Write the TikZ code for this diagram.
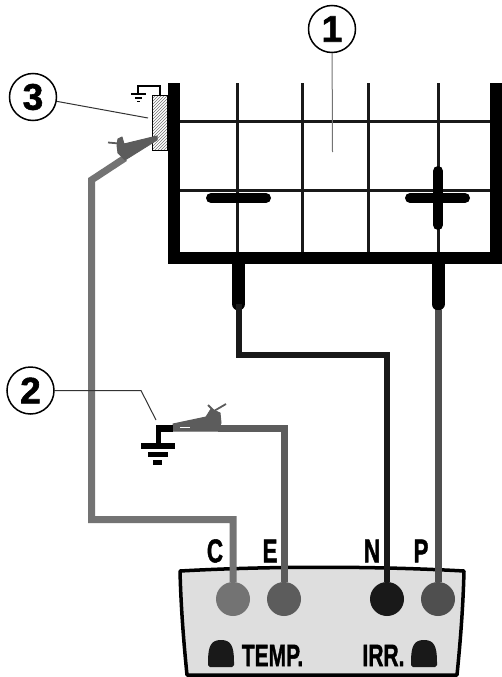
\documentclass[tikz,border=0pt]{standalone}
\usepackage{fontspec}
\setmainfont[BoldFeatures={FakeBold=1.6}]{Liberation Sans}
\usetikzlibrary{patterns}

\definecolor{wire_c}{gray}{0.45}
\definecolor{wire_e}{gray}{0.36}
\definecolor{wire_p}{gray}{0.31}

\begin{document}
\begin{tikzpicture}[
        x=1pt,y=-1pt,
        tank_wall/.style={line width=12pt, black, line join=miter},
        grid_line/.style={line width=3pt, black!90},
        pole_bar/.style={line width=10pt, black, line cap=round},
        ref_circle/.style={
            circle,
            draw=black,
            fill=white,
            line width=1.5pt,
            minimum size=47pt,
            inner sep=0pt,
            font=\bfseries\fontsize{37}{37}\selectfont
        },
        leader_line/.style={line width=1pt, black!80},
        jack_node/.style={circle, minimum size=34pt, inner sep=0pt},
        wire_line/.style={line width=7pt, line join=miter},
        probe_sleeve/.style={line width=13pt, black, line cap=round},
        clamp_body/.style={fill=wire_e, draw=wire_e, line width=1pt, line join=round},
        clamp_lever/.style={line width=1.8pt, wire_e},
        ground_bar/.style={line width=5.5pt, black},
        terminal_text/.style={inner sep=0pt, font=\bfseries\fontsize{33}{33}\selectfont},
        panel_text/.style={inner sep=0pt, font=\bfseries\fontsize{30}{30}\selectfont},
        port_blob/.style={fill=black!90, draw=none}
    ]
    \useasboundingbox (0,0) rectangle (502,677);

    % Tank grid
    \foreach \gx in {237,302,368,438} {
        \draw[grid_line] (\gx,83) -- (\gx,252);
    }
    \foreach \gy in {121,190} {
        \draw[grid_line] (180,\gy) -- (492,\gy);
    }

    % Battery leads
    \coordinate (Stub_N) at (238.5,262);
    \coordinate (Stub_P) at (438,262);
    \draw[probe_sleeve] (Stub_N) -- (238.5,304);
    \draw[probe_sleeve] (Stub_P) -- (438,304);

    % Tank walls
    \draw[tank_wall] (174,83) -- (174,258) -- (496,258) -- (496,83);

    % Poles
    \draw[pole_bar] (211,198) -- (266,198);
    \draw[pole_bar] (410,198) -- (465,198);
    \draw[pole_bar] (438,171) -- (438,225);

    % Instrument
    \draw[black, line width=3.5pt, fill=black!13, line join=round]
        (180,571) .. controls (270,566) and (375,566) .. (464,571)
        .. controls (463,610) and (460,645) .. (457,675)
        -- (187,675) .. controls (184,645) and (181,610) .. (180,571) -- cycle;

    % Jacks
    \node[jack_node, fill=wire_c] (Jack_C) at (233,599) {};
    \node[jack_node, fill=wire_e] (Jack_E) at (284,599) {};
    \node[jack_node, fill=black!90] (Jack_N) at (387,599) {};
    \node[jack_node, fill=wire_p] (Jack_P) at (438,599) {};

    % Terminal labels
    \node[terminal_text] (Text_C) at (215,551) {\scalebox{0.68}[1]{C}};
    \node[terminal_text] (Text_E) at (270,551) {\scalebox{0.68}[1]{E}};
    \node[terminal_text] (Text_N) at (372,551) {\scalebox{0.68}[1]{N}};
    \node[terminal_text] (Text_P) at (421,551) {\scalebox{0.68}[1]{P}};
    \node[panel_text] (Text_Temp) at (272.5,655.5) {\scalebox{0.7}[1.04]{TEMP.}};
    \node[panel_text] (Text_Irr) at (383.5,655.5) {\scalebox{0.7}[1.04]{IRR.}};
    \fill[port_blob] (208,662) .. controls (208,646) and (211,640) .. (221,640) .. controls (231,640) and (234,646) .. (234,662) -- (234,665) -- (232,667) -- (210,667) -- (208,665) -- cycle;
    \fill[port_blob] (411,662) .. controls (411,646) and (414,640) .. (424,640) .. controls (434,640) and (437,646) .. (437,662) -- (437,665) -- (435,667) -- (413,667) -- (411,665) -- cycle;

    % Wires to the instrument
    \draw[line width=6pt, black!90, line join=miter] (238.5,304) -- (238.5,355) -- (387,355) -- (Jack_N.north);
    \draw[wire_line, wire_p] (438,310) -- (Jack_P.north);

    % Clamp 3 and earth plate
    \draw[black, pattern=north east lines, pattern color=black!55, line width=1pt] (152,95) rectangle (167,150);
    \draw[black, line width=1.4pt] (160,95) -- (160,86) -- (138,86) -- (138,94);
    \draw[black, line width=1.6pt] (131,94) -- (146,94);
    \draw[black, line width=1.6pt] (135,98) -- (142,98);
    \draw[black, line width=1.6pt] (137,101.5) -- (140,101.5);

    \coordinate (Clamp_A) at (125,158);
    \draw[wire_line, wire_c] (Jack_C.north) -- (233,519.5) -- (91.5,519.5) -- (91.5,180) -- (Clamp_A);
    \fill[clamp_body, draw=wire_e] (157,136) -- (124,144) -- (122,137) -- (118,139) -- (117,145) -- (118,153) -- (125,160) -- (157,140) -- cycle;
    \draw[clamp_lever] (108,142.5) -- (119,143.5);

    % Clamp 2 and ground
    \draw[wire_line, wire_e] (Jack_E.north) -- (284,428) -- (218,428);
    \draw[black, line width=5pt] (158.5,428) -- (158.5,445);
    \draw[ground_bar] (141,446) -- (175,446);
    \draw[ground_bar] (148,454.5) -- (168,454.5);
    \draw[ground_bar] (153,462.5) -- (162,462.5);
    \filldraw[clamp_body] (173,424) -- (206,417) -- (211,409) -- (220,413) -- (221,423) -- (218,431) -- (173,431) -- cycle;
    \fill[black] (156,425) rectangle (173,432);
    \draw[clamp_lever] (208,405) -- (214,411) -- (226,404);
    \draw[white, line width=0.8pt] (180,427.5) -- (190,427.5);

    % Reference numbers
    \node[ref_circle] (Ref_1) at (332,29) {1};
    \node[ref_circle] (Ref_2) at (30.5,390.5) {2};
    \node[ref_circle] (Ref_3) at (33,97) {3};
    \coordinate (Tip_1) at (332.5,152);
    \coordinate (Bend_2) at (141,390.5);
    \coordinate (Tip_2) at (156,420);
    \coordinate (Tip_3) at (148,118);
    \draw[leader_line, black!55] (Ref_1) -- (Tip_1);
    \draw[leader_line] (Ref_2) -- (Bend_2) -- (Tip_2);
    \draw[leader_line] (Ref_3) -- (Tip_3);

\end{tikzpicture}
\end{document}
